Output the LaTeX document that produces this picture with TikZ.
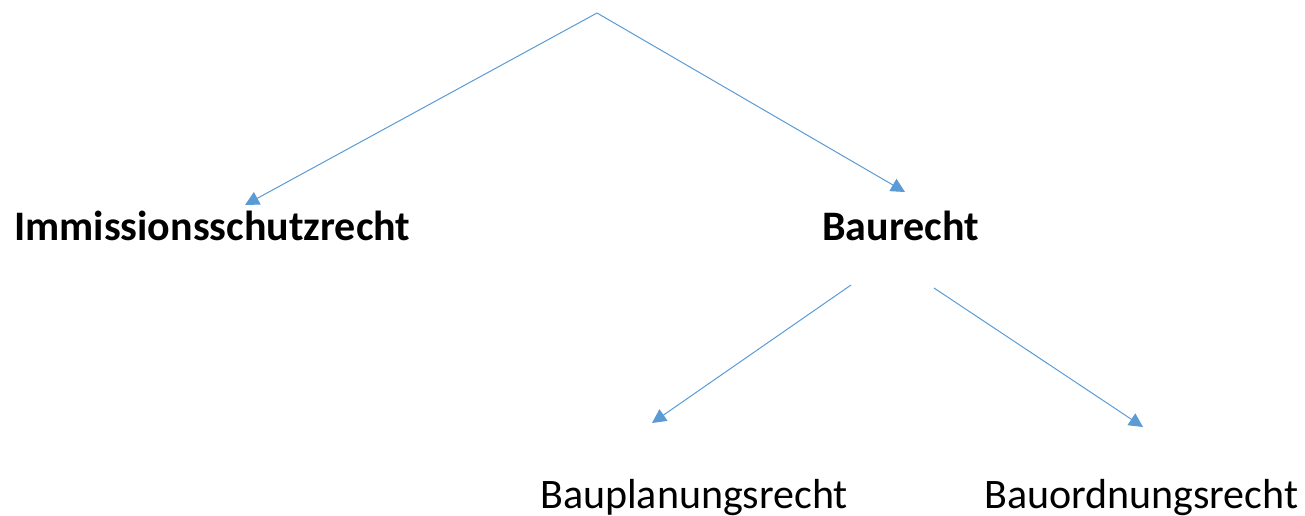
\documentclass[tikz,border=0pt]{standalone}
\usepackage{fontspec}
\setmainfont{Carlito}
\usetikzlibrary{arrows.meta}
\definecolor{lineblue}{HTML}{5B9BD5}
\tikzset{
  conn/.style={draw=lineblue, line width=1pt, -{Triangle[length=14pt,width=14pt]}},
  lbl/.style={inner sep=0pt, anchor=base west, font=\fontsize{42}{50}\selectfont},
  boldlbl/.style={lbl, font=\fontsize{42}{50}\selectfont\bfseries}
}
\begin{document}
\begin{tikzpicture}[x=1pt,y=-1pt]
\useasboundingbox (0,0) rectangle (1305,515);
\node[boldlbl] (imm) at (14,240) {Immissionsschutzrecht};
\node[boldlbl] (bau) at (822,240) {Baurecht};
\node[lbl] (bpl) at (540,508) {Bauplanungsrecht};
\node[lbl] (bor) at (984,508) {Bauordnungsrecht};
\coordinate (top) at (597,13);
\coordinate (immtip) at (245,205);
\coordinate (bautip) at (905,192);
\coordinate (bauL) at (851,285);
\coordinate (bauR) at (934,288);
\coordinate (bpltip) at (652,423);
\coordinate (bortip) at (1143,427);
\draw[conn] (top) -- (immtip);
\draw[conn] (top) -- (bautip);
\draw[conn] (bauL) -- (bpltip);
\draw[conn] (bauR) -- (bortip);
\end{tikzpicture}
\end{document}
